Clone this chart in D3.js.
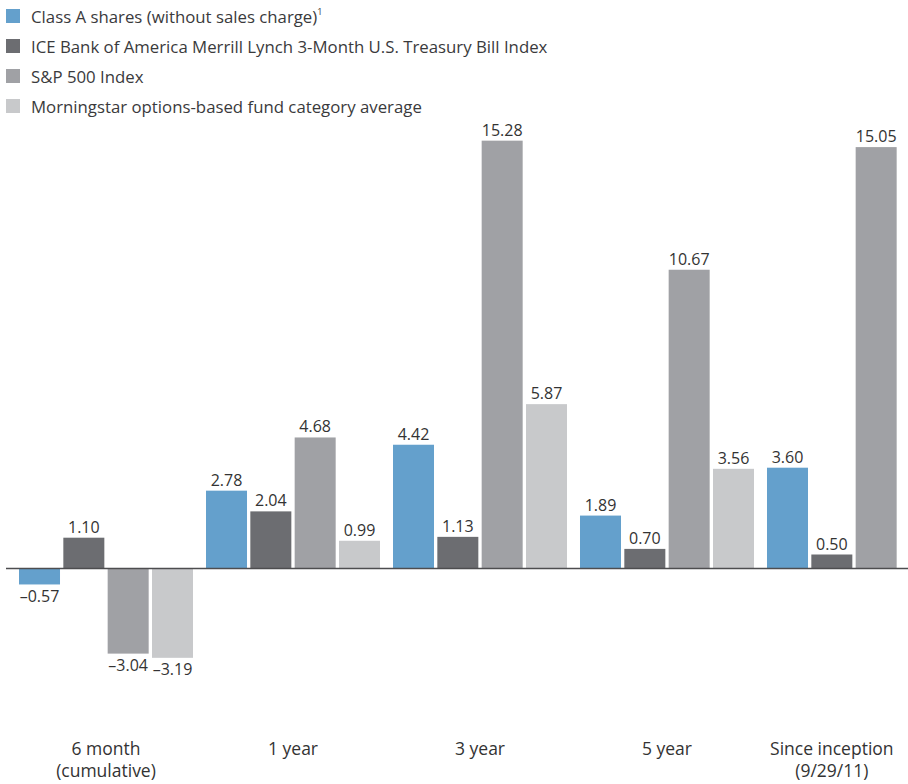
<!DOCTYPE html>
<html>
<head>
<meta charset="utf-8">
<script src="https://cdn.jsdelivr.net/npm/d3@7/dist/d3.min.js"></script>
<style>
  html, body { margin: 0; padding: 0; background: #fff; }
  svg { display: block; font-family: "Open Sans", "Noto Sans", sans-serif; }
</style>
</head>
<body>
<svg id="chart" width="908" height="784"></svg>
<script>
// ---- data ----
const categories = ["6 month (cumulative)", "1 year", "3 year", "5 year", "Since inception (9/29/11)"];
const categoryLines = [["6 month", "(cumulative)"], ["1 year"], ["3 year"], ["5 year"], ["Since inception", "(9/29/11)"]];
const seriesNames = [
  "Class A shares (without sales charge)",
  "ICE Bank of America Merrill Lynch 3-Month U.S. Treasury Bill Index",
  "S&P 500 Index",
  "Morningstar options-based fund category average"
];
const classA      = [-0.57, 2.78, 4.42, 1.89, 3.60];
const iceBofA     = [1.10, 2.04, 1.13, 0.70, 0.50];
const sp500       = [-3.04, 4.68, 15.28, 10.67, 15.05];
const morningstar = [-3.19, 0.99, 5.87, 3.56, null];
const colors = ["#64a0cc", "#6c6d71", "#a0a1a5", "#c8c9cb"];

const seriesValues = [classA, iceBofA, sp500, morningstar];

const svg = d3.select("#chart");

// ---- scales ----
const x0 = d3.scaleBand().domain(categories).range([19, 941]).paddingInner(0.0695).paddingOuter(0);
const x1 = d3.scaleBand().domain(seriesNames).range([0, x0.bandwidth()]).paddingInner(0.075).paddingOuter(0);
const y = d3.scaleLinear().domain([-4, 16]).range([680.5, 120.5]);

// ---- legend ----
const legend = svg.append("g");
seriesNames.forEach((name, i) => {
  const g = legend.append("g").attr("transform", `translate(6, ${9 + i * 30})`);
  g.append("rect").attr("width", 14).attr("height", 14).attr("fill", colors[i]);
  const t = g.append("text").attr("x", 25).attr("y", 13.5)
    .attr("font-size", 16.8).attr("fill", "#3a3a3c").text(name);
  if (i === 0) t.append("tspan").attr("font-size", 9).attr("dy", -8).text("1");
});

// ---- bars ----
const groups = svg.append("g").selectAll("g").data(categories).join("g")
  .attr("transform", d => `translate(${x0(d)},0)`);

groups.each(function(cat, ci) {
  const g = d3.select(this);
  seriesNames.forEach((s, si) => {
    const v = seriesValues[si][ci];
    if (v === null || v === undefined) return;
    g.append("rect")
      .attr("x", x1(s))
      .attr("width", x1.bandwidth())
      .attr("y", y(Math.max(0, v)))
      .attr("height", Math.abs(y(v) - y(0)))
      .attr("fill", colors[si]);
    g.append("text")
      .attr("x", x1(s) + x1.bandwidth() / 2)
      .attr("y", v >= 0 ? y(v) - 5 : y(v) + 17.5)
      .attr("text-anchor", "middle")
      .attr("font-size", 16)
      .attr("fill", "#333")
      .text((v < 0 ? "\u2013" : "") + Math.abs(v).toFixed(2));
  });
});

// ---- zero line ----
svg.append("line").attr("x1", 6).attr("x2", 908).attr("y1", y(0)).attr("y2", y(0))
  .attr("stroke", "#4d4d4f").attr("stroke-width", 1.5);

// ---- category labels ----
categories.forEach((cat, ci) => {
  const present = seriesNames.filter((s, si) => seriesValues[si][ci] !== null);
  const left = x0(cat) + x1(present[0]);
  const right = x0(cat) + x1(present[present.length - 1]) + x1.bandwidth();
  const cx = (left + right) / 2;
  const t = svg.append("text").attr("x", cx).attr("y", 755)
    .attr("text-anchor", "middle").attr("font-size", 17.5).attr("fill", "#333");
  categoryLines[ci].forEach((line, li) => {
    t.append("tspan").attr("x", cx).attr("dy", li === 0 ? 0 : 22).text(line);
  });
});
</script>
</body>
</html>
